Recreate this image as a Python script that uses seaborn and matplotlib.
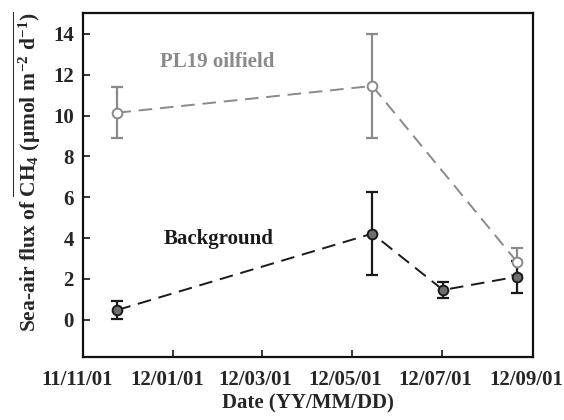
import matplotlib
matplotlib.use("Agg")
import matplotlib.pyplot as plt
import matplotlib.dates as mdates
import matplotlib.transforms as mtransforms
import seaborn as sns
import pandas as pd
import numpy as np

# Data
bg_dates = ["2011-11-24", "2012-05-15", "2012-07-02", "2012-08-21"]
bg_vals = [0.48, 4.22, 1.46, 2.11]
bg_lo = [0.03, 2.20, 1.08, 1.33]
bg_hi = [0.92, 6.24, 1.83, 2.88]

pl_dates = ["2011-11-24", "2012-05-15", "2012-08-21"]
pl_vals = [10.14, 11.45, 2.85]
pl_lo = [8.90, 8.90, 2.20]
pl_hi = [11.40, 14.00, 3.53]

xticks = ["2011-11-01", "2012-01-01", "2012-03-01", "2012-05-01", "2012-07-01", "2012-09-01"]

sns.set_style("ticks")
plt.rcParams['font.family'] = ['Liberation Serif', 'DejaVu Serif']
plt.rcParams['font.weight'] = 'bold'
plt.rcParams['mathtext.fontset'] = 'custom'
plt.rcParams['mathtext.rm'] = 'Liberation Serif:bold'
plt.rcParams['mathtext.it'] = 'Liberation Serif:bold'
plt.rcParams['mathtext.bf'] = 'Liberation Serif:bold'

fig = plt.figure(figsize=(5.64, 4.2), dpi=100)
ax = fig.add_axes([0.148, 0.151, 0.797, 0.817])

bg = pd.DataFrame({"date": pd.to_datetime(bg_dates), "flux": bg_vals})
pl = pd.DataFrame({"date": pd.to_datetime(pl_dates), "flux": pl_vals})

dark = "#1a1a1a"
grey = "#8a8a8a"

# error bars
ax.errorbar(pl["date"], pl["flux"],
            yerr=[np.array(pl_vals) - np.array(pl_lo), np.array(pl_hi) - np.array(pl_vals)],
            fmt="none", ecolor=grey, elinewidth=1.6, capsize=4, capthick=1.6, zorder=2)
ax.errorbar(bg["date"], bg["flux"],
            yerr=[np.array(bg_vals) - np.array(bg_lo), np.array(bg_hi) - np.array(bg_vals)],
            fmt="none", ecolor=dark, elinewidth=1.6, capsize=4, capthick=1.6, zorder=2)

n_before = len(ax.get_lines())
sns.lineplot(data=pl, x="date", y="flux", ax=ax, color=grey, linewidth=1.4,
             marker="o", markersize=7, markerfacecolor="white", markeredgecolor=grey,
             markeredgewidth=1.4, zorder=3)
sns.lineplot(data=bg, x="date", y="flux", ax=ax, color=dark, linewidth=1.4,
             marker="o", markersize=7, markerfacecolor="#6e6e6e", markeredgecolor=dark,
             markeredgewidth=1.4, zorder=4)
for ln in ax.get_lines()[n_before:]:
    ln.set_dashes([7, 4])

ax.set_xlim(pd.Timestamp("2011-11-01"), pd.Timestamp("2012-09-01"))
ax.set_ylim(-1.8, 15.0)
ax.set_xticks(pd.to_datetime(xticks))
ax.xaxis.set_major_formatter(mdates.DateFormatter("%y/%m/%d"))
ax.set_yticks(range(0, 15, 2))
ax.tick_params(direction="in", length=5, width=1.3, labelsize=15, pad=10)
ax.tick_params(axis="y", pad=7)
offset = mtransforms.ScaledTranslation(-6.5 / 100, 0, fig.dpi_scale_trans)
for tick in ax.xaxis.get_major_ticks():
    tick.label1.set_transform(tick.label1.get_transform() + offset)
for lab in ax.get_xticklabels() + ax.get_yticklabels():
    lab.set_fontweight("bold")
for s in ax.spines.values():
    s.set_linewidth(1.6)
    s.set_color("#111111")

ax.set_xlabel("Date (YY/MM/DD)", fontsize=15, fontweight="bold", labelpad=2)
ax.set_ylabel(r"Sea-air flux of $\overline{\mathrm{CH_4\ (\mu mol\ m^{-2}\ d^{-1})}}$",
              fontsize=15.5, fontweight="bold", labelpad=7, y=0.54)

ax.text(pd.Timestamp("2012-01-31"), 12.6, "PL19 oilfield", color=grey, fontsize=15,
        fontweight="bold", ha="center", va="center")
ax.text(pd.Timestamp("2012-02-01"), 3.95, "Background", color=dark, fontsize=15,
        fontweight="bold", ha="center", va="center")

fig.savefig("out.png", dpi=100)
